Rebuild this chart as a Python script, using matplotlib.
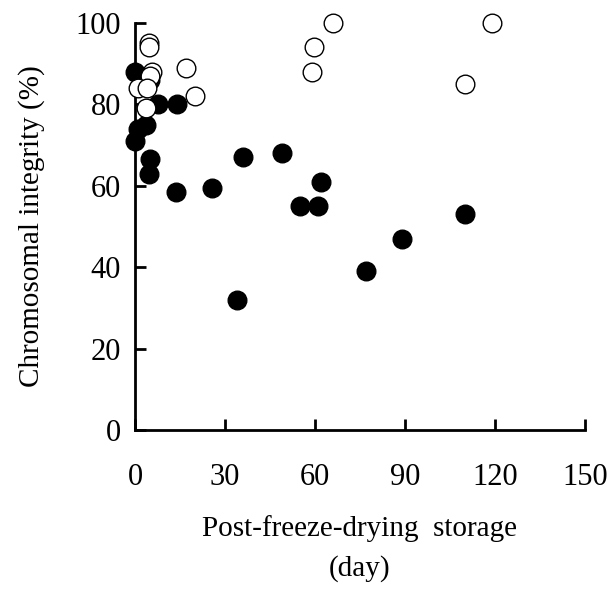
import matplotlib.pyplot as plt

# filled circles
filled_day = [0, 7.5, 14, 0, 1, 3.5, 5, 4.7, 13.5, 25.5, 36, 49, 55, 61, 62, 34, 77, 89, 110, 5]
filled_ci = [88, 80, 80, 71, 74, 75, 66.5, 63, 58.5, 59.5, 67, 68, 55, 55, 61, 32, 39, 47, 53, 86]

# open circles
open_day = [4.7, 4.5, 5.5, 5, 1, 4, 3.5, 17, 20, 59.5, 59, 66, 110, 119]
open_ci = [95, 94, 88, 87, 84, 84, 79, 89, 82, 94, 88, 100, 85, 100]

plt.rcParams['font.family'] = ['Liberation Serif', 'DejaVu Serif']

fig = plt.figure(figsize=(6.08, 5.97), dpi=100)
ax = fig.add_axes([135/608, 167/597, 450/608, 407/597])

ax.scatter(filled_day, filled_ci, s=180, c='black', edgecolors='black', linewidths=1, zorder=3, clip_on=False)
ax.scatter(open_day, open_ci, s=180, c='white', edgecolors='black', linewidths=1, zorder=4, clip_on=False)

ax.set_xlim(0, 150)
ax.set_ylim(0, 100)
ax.set_xticks([0, 30, 60, 90, 120, 150])
ax.set_yticks([0, 20, 40, 60, 80, 100])

for s in ['top', 'right']:
    ax.spines[s].set_visible(False)
for s in ['left', 'bottom']:
    ax.spines[s].set_linewidth(2)

ax.tick_params(axis='x', direction='in', length=8, width=2, pad=24, labelsize=22)
ax.tick_params(axis='y', direction='in', length=8, width=2, pad=10, labelsize=22)

ax.set_ylabel('Chromosomal integrity (%)', fontsize=21, labelpad=22)
ax.set_xlabel('Post-freeze-drying  storage\n(day)', fontsize=21, labelpad=16, linespacing=1.65)

fig.savefig('out.png', dpi=100)
